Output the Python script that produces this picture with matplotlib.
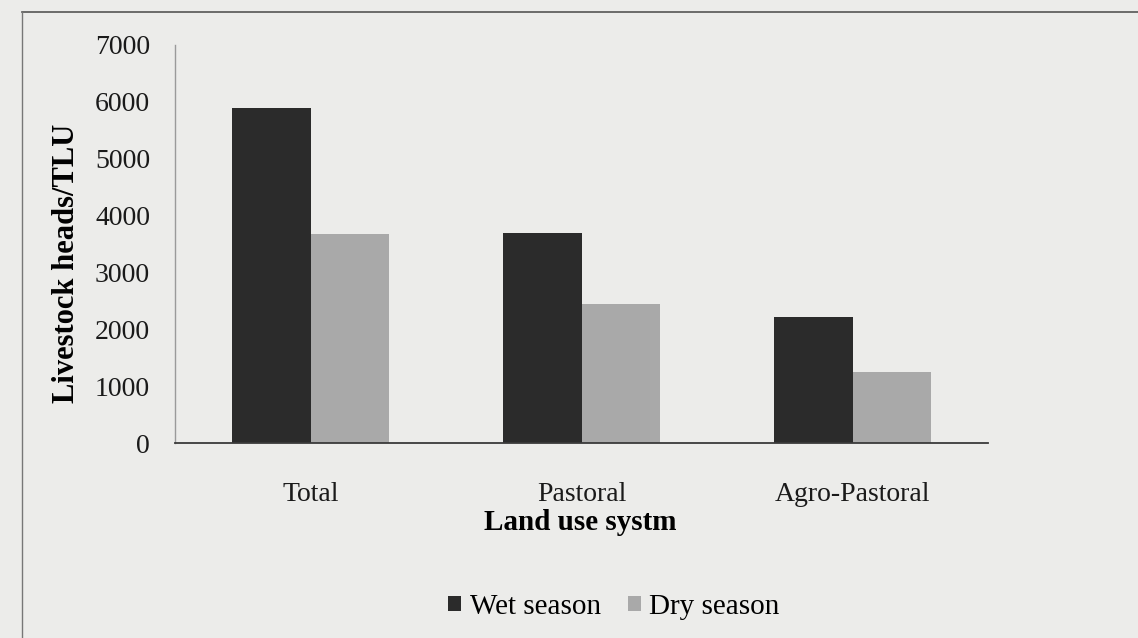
import numpy as np
import matplotlib
matplotlib.use("Agg")
import matplotlib.pyplot as plt
from matplotlib.lines import Line2D

# datos
categories = ["Total", "Pastoral", "Agro-Pastoral"]
wet_season = [5900, 3700, 2210]
dry_season = [3670, 2440, 1250]
y_ticks = [0, 1000, 2000, 3000, 4000, 5000, 6000, 7000]

plt.rcParams['font.family'] = ['Liberation Serif', 'DejaVu Serif']

bg = '#ececea'
fig = plt.figure(figsize=(11.38, 6.38), dpi=100, facecolor=bg)
ax = fig.add_axes([0.1538, 0.3056, 0.7144, 0.6239], facecolor=bg)

x = np.arange(len(categories))
w = 0.29
ax.bar(x - w / 2, wet_season, w, color='#2b2b2b', label='Wet season')
ax.bar(x + w / 2, dry_season, w, color='#a9a9a9', label='Dry season')

ax.set_xlim(-0.5, len(categories) - 0.5)
ax.set_ylim(0, 7000)
ax.set_yticks(y_ticks)
ax.set_xticks(x)
ax.set_xticklabels(categories)
ax.tick_params(axis='both', length=0, labelsize=20, colors='#1a1a1a')
ax.tick_params(axis='y', pad=18)
ax.tick_params(axis='x', pad=28)

for s in ['top', 'right']:
    ax.spines[s].set_visible(False)
ax.spines['left'].set_color('#9a9a9a')
ax.spines['left'].set_linewidth(1.0)
ax.spines['bottom'].set_color('#3a3a3a')
ax.spines['bottom'].set_linewidth(1.3)

ax.set_ylabel('Livestock heads/TLU', fontsize=22, fontweight='bold')
ax.yaxis.set_label_coords(-0.116, 0.452)
fig.text(580 / 1138, 1 - 522 / 638, 'Land use systm', fontsize=21,
         fontweight='bold', ha='center', va='center')

fig.legend(loc='center', bbox_to_anchor=(614 / 1138, 1 - 607 / 638), ncol=2,
           frameon=False, fontsize=21, handlelength=0.45, handleheight=0.45,
           handletextpad=0.3, columnspacing=0.9)

# marco exterior del area del grafico
fig.add_artist(Line2D([22 / 1138, 1.0], [1 - 12 / 638, 1 - 12 / 638],
                      transform=fig.transFigure, color='#555555', lw=1.2))
fig.add_artist(Line2D([22 / 1138, 22 / 1138], [1 - 12 / 638, 0.0],
                      transform=fig.transFigure, color='#777777', lw=1.0))

fig.savefig('out.png', dpi=100, facecolor=bg)
